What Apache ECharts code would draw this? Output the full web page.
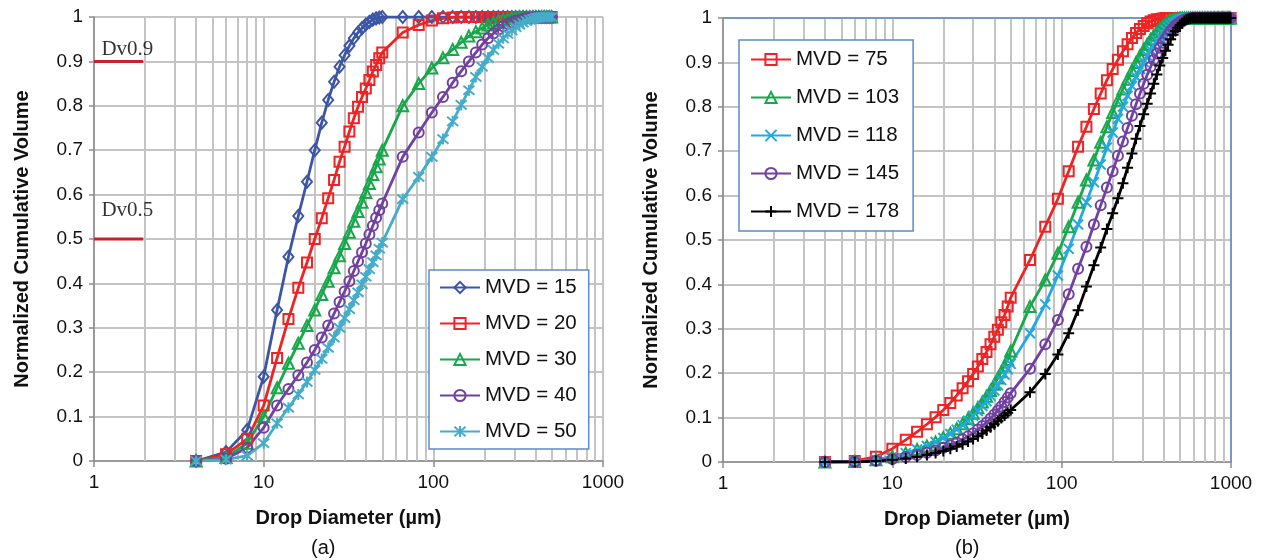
<!DOCTYPE html>
<html><head><meta charset="utf-8">
<script src="https://cdn.jsdelivr.net/npm/echarts@6/dist/echarts.min.js"></script>
<style>html,body{margin:0;padding:0;background:#fff}#c{width:1262px;height:560px}</style>
</head><body><div id="c"></div>
<script>
// ---------- Panel (a) data ----------
const xA = [4,6,8,10,12,14,16,18,20,22,24,26,28,30,32,34,36,38,40,42,44,46,48,50,
  66,82,98,114,130,146,162,178,194,210,226,242,258,274,290,306,322,338,354,370,386,402,418,434,450,466,482,498];
const mvd15 = [0,0.02,0.07,0.19,0.34,0.46,0.552,0.629,0.70,0.762,0.813,0.854,0.888,0.914,0.935,0.952,0.965,0.975,0.983,0.989,0.994,0.997,0.999,1,
  1,1,1,1,1,1,1, 1,1,1,1,1,1,1, 1,1,1,1,1,1,1, 1,1,1,1,1,1,1];
const mvd20 = [0,0.015,0.05,0.125,0.232,0.32,0.39,0.447,0.50,0.547,0.592,0.633,0.674,0.708,0.742,0.772,0.798,0.82,0.839,0.858,0.877,0.892,0.907,0.92,
  0.965,0.982,0.992,0.997,0.999,
  1,1,1,1,1,1,1,1,1,1, 1,1,1,1,1,1,1,1,1,1, 1,1,1];
const mvd30 = [0,0.008,0.04,0.10,0.165,0.22,0.265,0.305,0.34,0.375,0.405,0.435,0.462,0.49,0.515,0.54,0.562,0.583,0.605,0.625,0.645,0.663,0.68,0.70,
  0.80,0.85,0.885,0.908,0.927,0.943,0.957,0.967,0.975,0.982,0.987,0.991,0.994,0.996,0.998,0.999,
  1,1,1,1,1,1,1,1,1,1,1,1];
const mvd40 = [0,0.005,0.03,0.075,0.125,0.162,0.193,0.222,0.25,0.278,0.305,0.332,0.358,0.382,0.405,0.428,0.45,0.47,0.49,0.51,0.53,0.548,0.565,0.58,
  0.685,0.74,0.785,0.82,0.852,0.878,0.90,0.92,0.938,0.952,0.963,0.972,0.979,0.985,0.989,0.992,0.994,0.996,0.997,0.998,0.999,
  1,1,1,1,1,1,1];
const mvd50 = [0,0.003,0.012,0.04,0.085,0.12,0.15,0.178,0.205,0.23,0.255,0.278,0.30,0.322,0.342,0.362,0.38,0.398,0.415,0.432,0.448,0.463,0.478,0.492,
  0.59,0.64,0.685,0.725,0.765,0.802,0.835,0.865,0.888,0.908,0.926,0.94,0.952,0.962,0.97,0.977,0.983,0.987,0.991,0.994,0.996,0.998,0.999,
  1,1,1,1,1];

// ---------- Panel (b) data ----------
const xB = [4,6,8,10,12,14,16,18,20,22,24,26,28,30,32,34,36,38,40,42,44,46,48,50,
  65,80,95,110,125,140,155,170,185,200,215,230,245,260,275,290,305,320,335,350,365,380,395,410,425,440,455,470,485,500,
  515,530,545,560,575,590,605,620,635,650,665,680,695,710,725,740,755,770,785,800,815,830,845,860,875,890,905,920,935,950,965,980,995];
const mvd75 = [0,0.002,0.012,0.03,0.05,0.068,0.085,0.101,0.117,0.133,0.15,0.166,0.182,0.198,0.215,0.232,0.248,0.265,0.282,0.298,0.315,0.331,0.35,0.37,
  0.455,0.53,0.593,0.655,0.71,0.755,0.795,0.83,0.86,0.885,
  0.906,0.925,0.941,0.955,0.966,0.975,0.982,0.988,0.992,0.995,
  0.997,0.998,0.999,
  1,1,1,1,1,1,1,1,1,1, 1,1,1,1,1,1,1,1,1,1, 1,1,1,1,1,1,1,1,1,1, 1,1,1,1,1,1,1,1,1,1];
const mvd103 = [0,0.001,0.005,0.012,0.02,0.028,0.036,0.045,0.055,0.065,0.075,0.086,0.098,0.11,0.122,0.135,0.148,0.161,0.175,0.189,0.203,0.217,0.231,0.25,
  0.35,0.41,0.47,0.53,0.585,0.635,0.68,0.72,0.755,0.787,
  0.815,0.84,0.862,0.882,0.9,0.915,0.929,0.941,0.952,0.961,
  0.969,0.976,0.982,0.987,0.991,0.994,0.996,0.998,0.999,
  1,1,1,1,1,1,1,1,1,1, 1,1,1,1,1,1,1,1,1,1, 1,1,1,1,1,1,1,1,1,1, 1,1,1,1];
const mvd118 = [0,0.001,0.005,0.012,0.02,0.028,0.036,0.045,0.054,0.063,0.073,0.083,0.093,0.104,0.115,0.126,0.137,0.149,0.161,0.173,0.185,0.197,0.209,0.221,
  0.29,0.355,0.42,0.48,0.535,0.585,0.63,0.67,0.708,0.742,
  0.773,0.80,0.825,0.847,0.867,0.885,0.901,0.915,0.928,0.939,
  0.949,0.958,0.966,0.973,0.979,0.984,0.988,0.991,0.994,0.996,
  0.998,0.999,
  1,1,1,1,1,1,1,1,1,1, 1,1,1,1,1,1,1,1,1,1, 1,1,1,1,1,1,1,1,1,1, 1];
const mvd145 = [0,0,0.003,0.007,0.011,0.016,0.021,0.026,0.032,0.038,0.044,0.051,0.058,0.065,0.073,0.081,0.089,0.098,0.107,0.116,0.125,0.135,0.145,0.155,
  0.21,0.265,0.32,0.378,0.435,0.485,0.535,0.578,0.618,0.655,
  0.69,0.722,0.752,0.78,0.806,0.83,0.852,0.872,0.89,0.906,
  0.92,0.933,0.944,0.954,0.963,0.971,0.977,0.983,0.987,0.991,
  0.994,0.996,0.998,0.999,
  1,1,1,1,1,1,1,1,1,1, 1,1,1,1,1,1,1,1,1,1, 1,1,1,1,1,1,1,1,1];
const mvd178 = [0,0,0.002,0.005,0.008,0.012,0.016,0.02,0.025,0.03,0.035,0.04,0.046,0.052,0.058,0.064,0.071,0.078,0.085,0.092,0.099,0.105,0.111,0.117,
  0.157,0.198,0.242,0.29,0.342,0.395,0.443,0.483,0.525,0.56,
  0.594,0.628,0.663,0.695,0.728,0.757,0.783,0.807,0.83,0.852,
  0.873,0.893,0.91,0.926,0.94,0.952,0.962,0.971,0.978,0.984,
  0.989,0.993,0.996,0.998,0.999,
  1,1,1,1,1,1,1,1,1,1, 1,1,1,1,1,1,1,1,1,1, 1,1,1,1,1,1,1,1];

// ---------- labels / reference lines ----------
const namesA = ['MVD = 15','MVD = 20','MVD = 30','MVD = 40','MVD = 50'];
const namesB = ['MVD = 75','MVD = 103','MVD = 118','MVD = 145','MVD = 178'];
const xTickLabels = { 1: '1', 10: '10', 100: '100', 1000: '1000' };
const minorGrid = [2,3,4,5,6,7,8,9,20,30,40,50,60,70,80,90,200,300,400,500,600,700,800,900];
const dvLevels = [0.9, 0.5];
const dvLabels = ['Dv0.9','Dv0.5'];
const dvSpan = [1, 1.95];
const dvLabelPos = [[1.04, 0.926], [1.04, 0.565]];
const xTitle = 'Drop Diameter (µm)';
const yTitle = 'Normalized Cumulative Volume';

const FONT = '"Liberation Sans", Arial, sans-serif';
const GRID_C = '#c4c4c4';
const AXIS_C = '#8c8c8c';
const BORDER_C = '#5b8bc9';

const ASTER = 'path://M0,0L10,10M10,0L0,10M5,-1L5,11';
const CROSS = 'path://M0,0L10,10M10,0L0,10';
const PLUS = 'path://M5,0L5,10M0,5L10,5';

function mk(name, xs, ys, color, symbol, gi, size) {
  return {
    name, type: 'line', xAxisIndex: gi, yAxisIndex: gi,
    data: xs.map((x, i) => [x, ys[i]]),
    symbol, symbolSize: size, showSymbol: true,
    lineStyle: { color, width: 2.8 },
    itemStyle: { color: 'transparent', borderColor: color, borderWidth: 2 },
    emphasis: { disabled: true }, z: 3, animation: false
  };
}

function xAxis(gi) {
  return {
    gridIndex: gi, type: 'log', logBase: 10, min: 1, max: 1000,
    name: xTitle, nameLocation: 'middle', nameGap: 47,
    nameTextStyle: { fontFamily: FONT, fontSize: 20, fontWeight: 'bold', color: '#111' },
    axisLine: { show: true, lineStyle: { color: AXIS_C, width: 1.5 } },
    axisTick: { show: true, length: 6, lineStyle: { color: AXIS_C, width: 1.5 } },
    axisLabel: { fontFamily: FONT, fontSize: 19, color: '#111', margin: 12,
      formatter: v => xTickLabels[Math.round(v)] || String(Math.round(v)) },
    splitLine: { show: true, lineStyle: { color: GRID_C, width: 2 } },
    minorTick: { show: false }
  };
}
function yAxis(gi) {
  return {
    gridIndex: gi, type: 'value', min: 0, max: 1, interval: 0.1,
    name: yTitle, nameLocation: 'middle', nameGap: 62,
    nameTextStyle: { fontFamily: FONT, fontSize: 20, fontWeight: 'bold', color: '#111' },
    axisLine: { show: true, lineStyle: { color: AXIS_C, width: 1.5 } },
    axisTick: { show: true, length: 5, lineStyle: { color: AXIS_C, width: 1.5 } },
    axisLabel: { fontFamily: FONT, fontSize: 19, color: '#111', margin: 11 },
    splitLine: { show: true, lineStyle: { color: GRID_C, width: 2 } }
  };
}
function minorLines(gi, extra) {
  return {
    name: '_grid' + gi, type: 'line', xAxisIndex: gi, yAxisIndex: gi, data: [],
    silent: true, z: 1,
    markLine: {
      silent: true, symbol: ['none', 'none'], animation: false, z: 1,
      label: { show: false },
      lineStyle: { color: GRID_C, width: 2, type: 'solid' },
      emphasis: { disabled: true },
      data: minorGrid.map(v => ({ xAxis: v })).concat(extra || [])
    }
  };
}

const legendBase = {
  orient: 'vertical', backgroundColor: '#fff', borderColor: BORDER_C, borderWidth: 1.5,
  borderRadius: 0, itemWidth: 40, itemHeight: 14,
  textStyle: { fontFamily: FONT, fontSize: 20.5, color: '#111' },
  selectedMode: false
};

const series = [
  minorLines(0),
  minorLines(1, [
    { xAxis: 1000, lineStyle: { color: BORDER_C, width: 1.5 } },
    { yAxis: 1, lineStyle: { color: BORDER_C, width: 1.5 } }
  ]),
  ...dvLevels.map(v => ({
    type: 'line', xAxisIndex: 0, yAxisIndex: 0, symbol: 'none', silent: true, z: 3,
    data: dvSpan.map(x => [x, v]), lineStyle: { color: '#c0262d', width: 3 }
  })),
  {
    type: 'scatter', xAxisIndex: 0, yAxisIndex: 0, symbolSize: 1, silent: true,
    itemStyle: { color: 'transparent' },
    data: dvLabels.map((n, i) => ({ name: n, value: dvLabelPos[i] })),
    label: { show: true, position: 'right', distance: 4, formatter: '{b}',
      fontFamily: '"Liberation Serif", "Times New Roman", serif', fontSize: 21, color: '#000' }
  },
  mk(namesA[0], xA, mvd15, '#3c55a5', 'diamond', 0, [10, 12]),
  mk(namesA[1], xA, mvd20, '#ee2324', 'rect', 0, 10),
  mk(namesA[2], xA, mvd30, '#18a74a', 'triangle', 0, 11),
  mk(namesA[3], xA, mvd40, '#7140a0', 'circle', 0, 10),
  mk(namesA[4], xA, mvd50, '#45acc9', ASTER, 0, 11),
  mk(namesB[0], xB, mvd75, '#ee2324', 'rect', 1, 10),
  mk(namesB[1], xB, mvd103, '#18a74a', 'triangle', 1, 11),
  mk(namesB[2], xB, mvd118, '#22a9e1', CROSS, 1, 10),
  mk(namesB[3], xB, mvd145, '#7140a0', 'circle', 1, 10),
  mk(namesB[4], xB, mvd178, '#000000', PLUS, 1, 11)
];

const chart = echarts.init(document.getElementById('c'), null, { renderer: 'canvas' });
chart.setOption({
  animation: false,
  backgroundColor: '#fff',
  grid: [
    { left: 94, top: 17, width: 509, height: 444 },
    { left: 723, top: 18, width: 508, height: 444 }
  ],
  xAxis: [xAxis(0), xAxis(1)],
  yAxis: [yAxis(0), yAxis(1)],
  legend: [
    Object.assign({}, legendBase, { left: 429, top: 270, itemGap: 15, padding: [7, 12, 7, 10], data: namesA }),
    Object.assign({}, legendBase, { left: 739, top: 40, itemGap: 17, padding: [9, 14, 9, 11], data: namesB })
  ],
  graphic: [
    { type: 'text', left: 311, top: 538, style: { text: '(a)', fontFamily: FONT, fontSize: 20, fill: '#111' } },
    { type: 'text', left: 955, top: 538, style: { text: '(b)', fontFamily: FONT, fontSize: 20, fill: '#111' } }
  ],
  series
});
</script>
</body></html>
